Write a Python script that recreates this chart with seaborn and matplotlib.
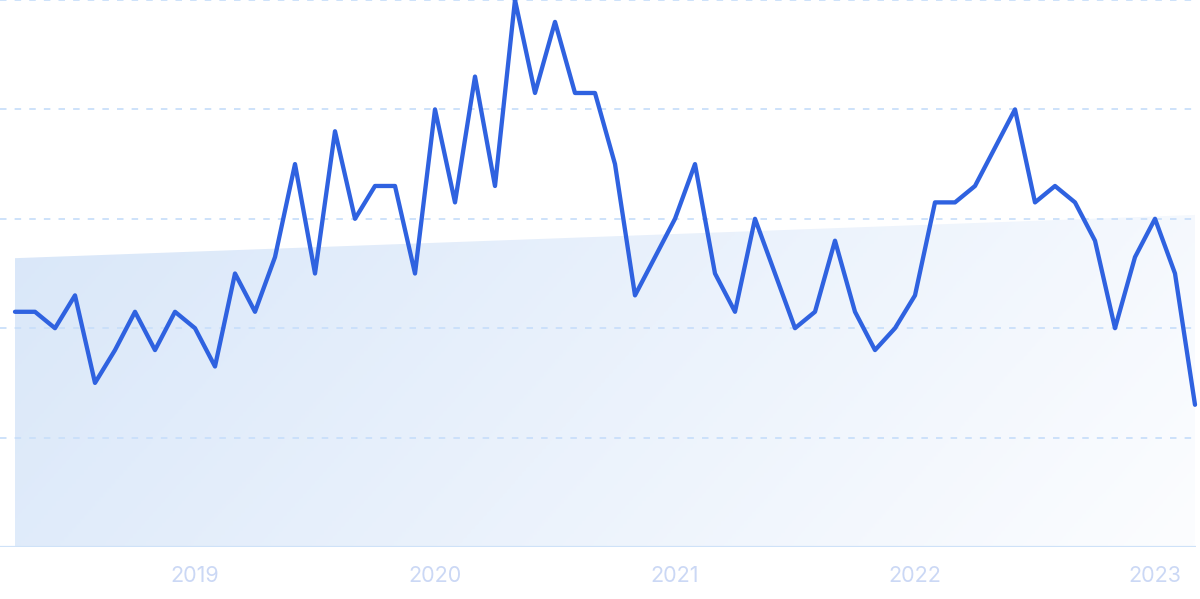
import numpy as np
import pandas as pd
import matplotlib
matplotlib.use('Agg')
import matplotlib.pyplot as plt
from matplotlib.colors import LinearSegmentedColormap
import seaborn as sns

# monthly search interest, Apr 2018 - Mar 2023
months = pd.date_range('2018-04-01', '2023-03-01', freq='MS')
interest = [43, 43, 40, 46, 30, 36, 43, 36, 43, 40,
            33, 50, 43, 53, 70, 50, 76, 60, 66, 66,
            50, 80, 63, 86, 66, 100, 83, 96, 83, 83,
            70, 46, 53, 60, 70, 50, 43, 60, 50, 40,
            43, 56, 43, 36, 40, 46, 63, 63, 66, 73,
            80, 63, 66, 63, 56, 40, 53, 60, 50, 26]
trend_start = 52.8
trend_end = 60.7
grid_values = [20, 40, 60, 80, 100]

df = pd.DataFrame({'month': months, 'interest': interest})
df['idx'] = np.arange(len(df))

sns.set_theme(style='white')
plt.rcParams['font.family'] = ['Inter', 'DejaVu Sans']

fig = plt.figure(figsize=(12, 5.99), dpi=100)
ax = fig.add_axes([0, 1 - 547 / 599, 1196 / 1200, 547 / 599])

n = len(df)
x0, x1 = -0.75, n - 1 + 0.05
ax.set_xlim(x0, x1)
ax.set_ylim(0, 100)

# trend area with diagonal gradient
trend = np.array([trend_start, trend_end])
poly = ax.fill_between([0, n - 1], [0, 0], trend, color='none', lw=0)
gx, gy = np.meshgrid(np.linspace(0, 1, 300), np.linspace(1, 0, 150))
grad = 0.8 * gx + 0.2 * (1 - gy)
cmap = LinearSegmentedColormap.from_list('fade', ['#d9e7f9', '#fcfdff'])
img = ax.imshow(grad, extent=[0, n - 1, 0, trend_end], aspect='auto',
                cmap=cmap, origin='upper', zorder=1, interpolation='bilinear')
img.set_clip_path(poly.get_paths()[0], transform=ax.transData)

# gridlines
for g in grid_values:
    ax.axhline(g, color='#c9dffa', lw=1.3, ls=(0, (3.6, 4.5)), zorder=2, clip_on=False)
ax.axhline(0, color='#cfe2f8', lw=1.6, zorder=2)

sns.lineplot(data=df, x='idx', y='interest', ax=ax, color='#2f62e0',
             linewidth=3.1, zorder=3, clip_on=False)

year_idx = df.index[df['month'].dt.month == 1].tolist()
ax.set_xticks(year_idx)
ax.set_xticklabels([str(df['month'][i].year) for i in year_idx])
ax.tick_params(axis='x', length=0, pad=14, labelsize=15.5, labelcolor='#cbd8f5')
ax.set_yticks([])
ax.set_xlabel('')
ax.set_ylabel('')
for s in ax.spines.values():
    s.set_visible(False)

fig.savefig('out.png', dpi=100)
